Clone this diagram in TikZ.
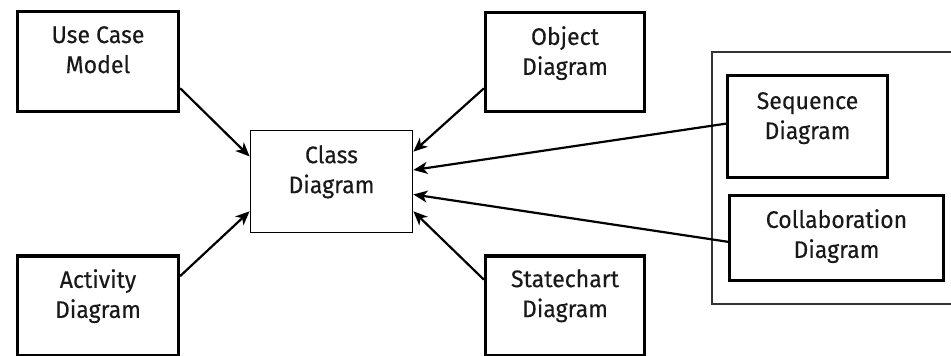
\documentclass[tikz,border=0pt]{standalone}
\usepackage{fontspec}
\setmainfont{Fira Sans}[FakeBold=0.3,FakeStretch=0.96]
\usetikzlibrary{arrows.meta}
\tikzset{
  thickbox/.style={draw=black, line width=3.2pt, fill=white, inner sep=0pt},
  thinbox/.style={draw=black, line width=1.8pt, fill=white, inner sep=0pt},
  grpbox/.style={draw=black!80, line width=1.6pt, inner sep=0pt},
  lbl/.style={anchor=north, align=center, inner sep=0pt, text=black!90,
    font=\fontsize{24}{30}\selectfont},
  conn/.style={line width=2.2pt, -{Stealth[length=14pt,width=12pt,inset=4pt]}},
}
\begin{document}
\begin{tikzpicture}[x=1pt,y=-1pt]
\useasboundingbox (0,0) rectangle (951,356);
% group container
\node[grpbox, minimum width=260pt, minimum height=252pt] (grp) at (842,178) {};
% boxes
\node[thickbox, minimum width=161pt, minimum height=100pt] (uc) at (98,61.5) {};
\node[thickbox, minimum width=161pt, minimum height=100pt] (act) at (98,306) {};
\node[thickbox, minimum width=159pt, minimum height=99pt] (obj) at (565,62) {};
\node[thickbox, minimum width=159pt, minimum height=100pt] (st) at (565,306) {};
\node[thinbox, minimum width=162pt, minimum height=102pt] (cls) at (331.5,181.5) {};
\node[thickbox, minimum width=160pt, minimum height=102pt] (seq) at (807.5,126.5) {};
\node[thickbox, minimum width=214pt, minimum height=85pt] (col) at (836.5,238) {};
% labels
\node[lbl] (uct) at (98,26) {Use Case\\Model};
\node[lbl] (actt) at (98,269) {Activity\\Diagram};
\node[lbl] (objt) at (565,26) {Object\\Diagram};
\node[lbl] (stt) at (565,269) {Statechart\\Diagram};
\node[lbl] (clst) at (331.5,145) {Class\\Diagram};
\node[lbl] (seqt) at (807.5,92) {Sequence\\Diagram};
\node[lbl] (colt) at (836.5,209) {Collaboration\\Diagram};
% connectors
\draw[conn] (uc.-18) -- (cls.163);
\draw[conn] (act.20) -- (cls.200);
\draw[conn] (obj.198) -- (cls.20);
\draw[conn] (st.162) -- (cls.-20);
\draw[conn] (seq.178) -- (cls.8);
\draw[conn] (col.182) -- (cls.-9);
\end{tikzpicture}
\end{document}
